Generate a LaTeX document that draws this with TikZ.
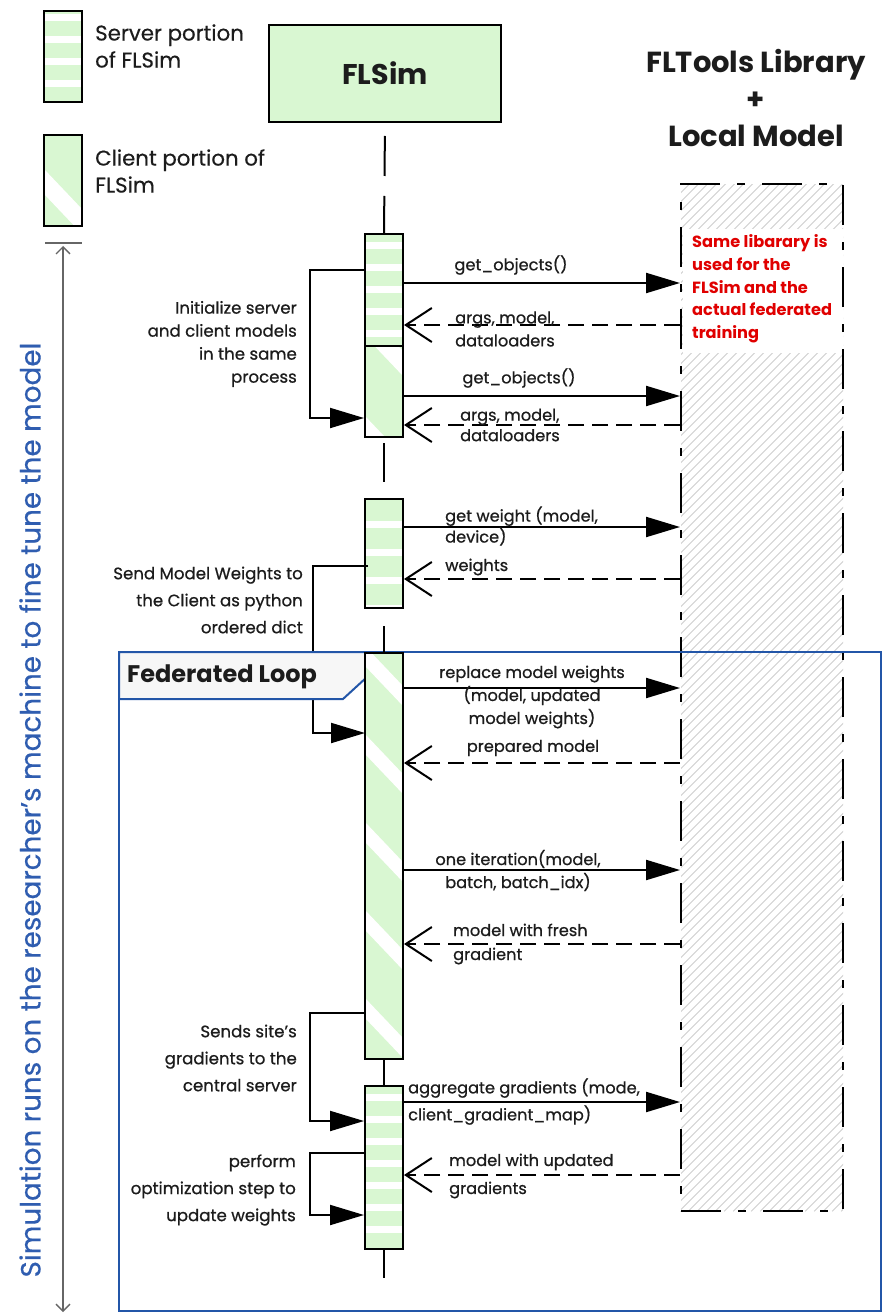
\documentclass[tikz,border=0pt]{standalone}
\usepackage{fontspec}
\setmainfont{Poppins}
\newfontfamily\medf{Poppins}[FakeBold=0.7]
\newfontfamily\vmedf{Poppins}[FakeBold=0.4]
\usetikzlibrary{arrows.meta}
\definecolor{lgreen}{HTML}{D9F7D2}
\definecolor{fblue}{HTML}{2356A8}
\definecolor{vblue}{HTML}{2F5DB0}
\definecolor{nred}{HTML}{E00000}
\definecolor{hatchc}{HTML}{CFCFCF}
\definecolor{labc}{HTML}{1C1C1C}
\definecolor{tabfill}{HTML}{F7F7F7}
\tikzset{
  sbar/.style 2 args={draw=black, line width=2pt, fill=lgreen, minimum width=38pt, anchor=north, inner sep=0pt,
    path picture={
      \foreach \i in {0,...,14}{
        \fill[white] ([yshift=-#1pt-\i*#2pt]path picture bounding box.north west) rectangle ([yshift=-#1pt-\i*#2pt-7pt]path picture bounding box.north east);
      }
    }},
  cbar/.style n args={3}{draw=black, line width=2pt, fill=lgreen, minimum width=38pt, anchor=north, inner sep=0pt,
    path picture={
      \foreach \i in {-1,...,6}{
        \fill[white] ([yshift=-#1pt-\i*#2pt]path picture bounding box.north west)
          -- ([yshift=-#1pt-\i*#2pt-40pt]path picture bounding box.north east)
          -- ([yshift=-#1pt-\i*#2pt-40pt-#3pt]path picture bounding box.north east)
          -- ([yshift=-#1pt-\i*#2pt-#3pt]path picture bounding box.north west) -- cycle;
      }
    }},
  lab/.style={font=\medf\fontsize{16.2}{23}\selectfont, text=labc, inner sep=0pt},
  slab/.style={font=\medf\fontsize{16.6}{27}\selectfont, text=labc, inner sep=0pt, align=right, anchor=east},
  call/.style={line width=2.2pt, -{Triangle[length=34pt,width=20pt]}},
  ret/.style={line width=2pt, dash pattern=on 16pt off 8pt, -{Straight Barb[length=26pt,width=34pt]}},
  self/.style={line width=2pt, -{Triangle[length=34pt,width=20pt]}},
  life/.style={line width=2pt},
}
\begin{document}
\begin{tikzpicture}[x=1pt,y=-1pt]
\useasboundingbox (0,0) rectangle (882,1313);
\fill[white] (0,0) rectangle (882,1313);

% legend
\node[sbar={3}{22}, minimum height=91pt] (lgs) at (63,10) {};
\node[font=\vmedf\fontsize{21.3}{27}\selectfont, text=labc, inner sep=0pt, align=left, anchor=west] (lgst) at (95,46) {Server portion\\of FLSim};
\node[cbar={34}{200}{25}, minimum height=91pt] (lgc) at (63,134) {};
\node[font=\vmedf\fontsize{21.3}{27}\selectfont, text=labc, inner sep=0pt, align=left, anchor=west] (lgct) at (95,171) {Client portion of\\FLSim};

% left timeline arrow
\coordinate (ta) at (63,246);
\coordinate (tb) at (63,1312);
\draw[gray!80!black, line width=1.3pt] (45,243) -- (82,243);
\draw[gray!80!black, line width=1.3pt, {Straight Barb[length=7pt,width=14pt]}-{Straight Barb[length=7pt,width=14pt]}] (ta) -- (tb);
\node[rotate=90, font=\vmedf\fontsize{27.8}{30}\selectfont, text=vblue, inner sep=0pt] (vt) at (30,810) {Simulation runs on the researcher’s machine to fine tune the model};

% FLSim head
\node[draw=black, line width=2pt, fill=lgreen, minimum width=232pt, minimum height=97pt, anchor=north west, inner sep=0pt] (fls) at (268,24) {};
\node[font=\bfseries\fontsize{28.5}{30}\selectfont, text=labc, inner sep=0pt] (flst) at (fls.center) {FLSim};

% FLTools title
\node[font=\bfseries\fontsize{29}{37}\selectfont, text=labc, align=center, inner sep=0pt] (ftt) at (756,98) {FLTools Library\\+\\Local Model};

% FLTools box
\node[draw=black, line width=2.4pt, dash pattern=on 40pt off 17pt on 8pt off 17pt, minimum width=162pt, minimum height=1027pt, anchor=north west, inner sep=0pt,
  path picture={
    \foreach \k in {0,...,142}{
      \draw[hatchc, line width=0.9pt, solid] ([xshift=\k*9pt-1100pt]path picture bounding box.south west) -- ++(1250pt,1250pt);
    }
    \fill[white] ([xshift=2pt,yshift=-45pt]path picture bounding box.north west) rectangle ([yshift=-169pt]path picture bounding box.north east);
  }] (fl) at (680,183) {};
\node[font=\bfseries\fontsize{16.2}{22.7}\selectfont, text=nred, align=left, anchor=west, inner sep=0pt] (note) at (692,289) {Same libarary is\\used for the\\FLSim and the\\actual federated\\training};

% Federated loop frame
\draw[fblue, line width=2pt] (119,652) rectangle (881,1311);

% bars
\node[sbar={8}{22}, minimum height=112pt] (b1) at (384,233) {};
\node[cbar={-35}{105}{25}, minimum height=91pt] (b2) at (384,345) {};
\node[sbar={22}{28}, minimum height=109pt] (b3) at (384,498) {};
\node[sbar={8}{22}, minimum height=163pt] (b5) at (384,1085) {};
\coordinate (lend) at (384,1278);

% lifeline
\draw[life, dash pattern=on 40pt off 20pt, dash phase=47pt] (fls.south) -- (b1.north);
\draw[life] ([yshift=-5pt]b2.south) -- ([yshift=16pt]b3.north);
\draw[life] ([yshift=-17pt]b3.south) -- (384,652);
\draw[life] (384,1058) -- (b5.north);
\draw[life] (b5.south) -- (lend);

% self calls
\draw[self] (b1.west |- 0,270) -- (310,270) -- (310,418) -- (b2.west |- 0,418);
\node[slab, font=\medf\fontsize{16.6}{23}\selectfont] (sa) at (297,344) {Initialize server\\and client models\\in the same\\process};
\draw[self] ([xshift=4pt]b3.west |- 0,566) -- (313,566) -- (313,733) -- (365,733);
\node[slab] (sb) at (303,600) {Send Model Weights to\\the Client as python\\ordered dict};
\draw[self] (365,1013) -- (310,1013) -- (310,1121) -- (b5.west |- 0,1121);
\node[slab] (sc) at (297,1058) {Sends site’s\\gradients to the\\central server};
\draw[self] (b5.west |- 0,1153) -- (310,1153) -- (310,1215) -- (b5.west |- 0,1215);
\node[slab] (sd) at (296,1190) {perform\\optimization step to\\update weights};

% Federated Loop tab
\fill[tabfill] (119,652) -- (367,652) -- (367,677) -- (343,699) -- (119,699) -- cycle;
\draw[fblue, line width=2pt] (119,652) -- (367,652) -- (367,677) -- (343,699) -- (119,699) -- cycle;
\node[font=\bfseries\fontsize{24}{26}\selectfont, text=labc, anchor=west, inner sep=0pt] (flp) at (127,677) {Federated Loop};
\node[cbar={-7}{88}{20}, minimum height=406pt] (b4) at (384,652) {};

% messages
\draw[call] (b1.east |- 0,283) -- (fl.west |- 0,283);
\node[lab] (m1) at (511,265) {get\_objects()};
\draw[ret] (fl.west |- 0,325) -- (b1.east |- 0,325);
\node[lab, align=left, anchor=west] (m2) at (455,329) {args, model,\\dataloaders};
\draw[call] (b2.east |- 0,396) -- (fl.west |- 0,396);
\node[lab] (m3) at (519,378) {get\_objects()};
\draw[ret] (fl.west |- 0,425) -- (b2.east |- 0,425);
\node[lab, align=left, anchor=west, font=\medf\fontsize{16.2}{20.5}\selectfont] (m4) at (460,425) {args, model,\\dataloaders};
\draw[call] (b3.east |- 0,527) -- (fl.west |- 0,527);
\node[lab, align=left, anchor=west, font=\medf\fontsize{16.2}{21}\selectfont] (m5) at (445,526) {get weight (model,\\device)};
\draw[ret] (fl.west |- 0,579) -- (b3.east |- 0,579);
\node[lab, anchor=west] (m6) at (445,567) {weights};
\draw[call] (b4.east |- 0,688) -- (fl.west |- 0,688);
\node[lab, align=center] (m7) at (532,697) {replace model weights\\(model, updated\\model weights)};
\draw[ret] (fl.west |- 0,763) -- (b4.east |- 0,763);
\node[lab] (m8) at (533,748) {prepared model};
\draw[call] (b4.east |- 0,870) -- (fl.west |- 0,870);
\node[lab, align=center] (m9) at (518,870.5) {one iteration(model,\\batch, batch\_idx)};
\draw[ret] (fl.west |- 0,944) -- (b4.east |- 0,944);
\node[lab, align=left, anchor=west, font=\medf\fontsize{16.2}{24}\selectfont] (m10) at (453,944) {model with fresh\\gradient};
\draw[call] (b5.east |- 0,1102) -- (fl.west |- 0,1102);
\node[lab, align=left, anchor=west, font=\medf\fontsize{16.2}{27}\selectfont] (m11) at (408,1101.5) {aggregate gradients (mode,\\client\_gradient\_map)};
\draw[ret] (fl.west |- 0,1175) -- (b5.east |- 0,1175);
\node[lab, align=left, anchor=west, font=\medf\fontsize{16.2}{28}\selectfont] (m12) at (449,1176) {model with updated\\gradients};
\end{tikzpicture}
\end{document}
